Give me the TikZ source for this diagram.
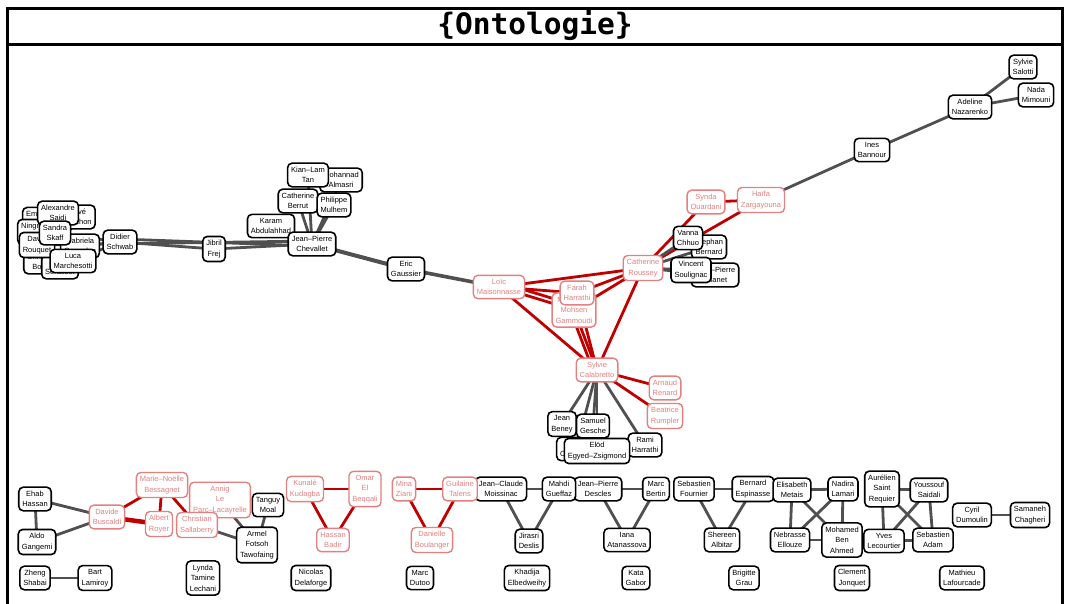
\documentclass[tikz,border=0pt]{standalone}
\usepackage{fontspec}
\setmainfont{Liberation Sans}
\newfontfamily\titlefont{DejaVu Sans Mono}
\pgfdeclarelayer{edges}
\pgfsetlayers{edges,main}
\definecolor{edgegray}{RGB}{80,80,80}
\definecolor{edgered}{RGB}{192,0,0}
\definecolor{nodered}{RGB}{228,128,128}
\tikzset{
  pn/.style={draw=black, line width=1.6pt, rounded corners=4.5pt, fill=white, align=center,
    font=\fontsize{7.5}{10.5}\selectfont, inner xsep=3.5pt, inner ysep=3.8pt},
  rn/.style={pn, draw=nodered, text=nodered, line width=1.4pt},
  ge/.style={draw=edgegray, line width=2.8pt},
  re/.style={draw=edgered, line width=2.8pt},
  frame/.style={draw=black, line width=3pt}
}
\begin{document}
\begin{tikzpicture}[x=1pt,y=-1pt]
\useasboundingbox (0,0) rectangle (1069,604);
% frame and title
\draw[frame] (7,620) -- (7,8.5) -- (1062,8.5) -- (1062,620);
\draw[frame] (7,44.5) -- (1062,44.5);
\node[font=\titlefont\bfseries\fontsize{29.5}{31}\selectfont, inner sep=0pt] (title) at (535,26) {\{Ontologie\}};

% ---- top right
\node[pn] (sal) at (1023,67) {Sylvie\\Salotti};
\node[pn] (mim) at (1036,95) {Nada\\Mimouni};
\node[pn] (naz) at (970,107) {Adeline\\Nazarenko};
\node[pn] (ban) at (872,150) {Ines\\Bannour};
\node[rn] (zar) at (761,200) {Haïfa\\Zargayouna};
\node[rn] (oua) at (706,202) {Synda\\Ouardani};
\node[pn] (sbe) at (709,247) {Stephan\\Bernard};
\node[pn] (cha) at (715,275) {Jean--Pierre\\Chanet};
\node[pn] (chh) at (688,238) {Vanna\\Chhuo};
\node[pn] (sou) at (691,270) {Vincent\\Soulignac};
\node[rn] (rou) at (643,268) {Catherine\\Roussey};
\node[rn] (mai) at (499,287) {Loïc\\Maisonnasse};
\node[rn] (gam) at (574,310) {Mohamed\\Mohsen\\Gammoudi};
\node[rn] (fha) at (577,293) {Farah\\Harrathi};
\node[rn] (cal) at (597,370) {Sylvie\\Calabretto};
\node[rn] (ren) at (665,388) {Arnaud\\Renard};
\node[rn] (rum) at (665,416) {Beatrice\\Rumpler};
\node[pn] (mch) at (576,449) {Max\\Chevalier};
\node[pn] (ben) at (562,424) {Jean\\Beney};
\node[pn] (ges) at (593,426) {Samuel\\Gesche};
\node[pn] (rha) at (645,445) {Rami\\Harrathi};
\node[pn] (egy) at (597,451) {Elöd\\Egyed--Zsigmond};

% ---- middle left
\node[pn] (eric) at (406,269) {Eric\\Gaussier};
\node[pn] (abd) at (271,226) {Karam\\Abdulahhad};
\node[pn] (chev) at (312,244) {Jean--Pierre\\Chevallet};
\node[pn] (frej) at (214,249) {Jibril\\Frej};
\node[pn] (berr) at (298,201) {Catherine\\Berrut};
\node[pn] (mul) at (334,205) {Philippe\\Mulhem};
\node[pn] (alm) at (341,180) {Mohannad\\Almasri};
\node[pn] (tan) at (308,175) {Kian--Lam\\Tan};
\node[pn] (sch) at (120,242) {Didier\\Schwab};

% ---- left cluster
\node[pn] (em) at (47,220) {Emmanuelle\\Esperança};
\node[pn] (bla) at (76,217) {Hervé\\Blanchon};
\node[pn] (nin) at (36,232) {Ningning\\Wang};
\node[pn] (gab) at (80,246) {Gabriela\\Gonzalez};
\node[pn] (boi) at (42,262) {Christian\\Boitet};
\node[pn] (ser) at (60,267) {Gilles\\Sérasset};
\node[pn] (rouq) at (37,245) {David\\Rouquet};
\node[pn] (sai) at (58,213) {Alexandre\\Saidi};
\node[pn] (luc) at (73,261) {Luca\\Marchesotti};
\node[pn] (ska) at (55,233) {Sandra\\Skaff};

% ---- bottom
\node[pn] (has) at (35,499) {Ehab\\Hassan};
\node[pn] (gan) at (37,542) {Aldo\\Gangemi};
\node[rn] (bus) at (107,517) {Davide\\Buscaldi};
\node[rn] (bes) at (162,485) {Marie--Noëlle\\Bessagnet};
\node[rn] (roy) at (159,524) {Albert\\Royer};
\node[rn] (lac) at (220,500) {Annig\\Le\\Parc--Lacayrelle};
\node[rn] (sly) at (197,525) {Christian\\Sallaberry};
\node[pn] (moa) at (268,505) {Tanguy\\Moal};
\node[pn] (taw) at (257,545) {Armel\\Fotsoh\\Tawofaing};
\node[pn] (sha) at (35,578) {Zheng\\Shabai};
\node[pn] (lam) at (95,578) {Bart\\Lamiroy};
\node[pn] (lec) at (203,578) {Lynda\\Tamine\\Lechani};
\node[rn] (kud) at (305,489) {Kunalè\\Kudagba};
\node[rn] (beq) at (365,489) {Omar\\El\\Beqqali};
\node[rn] (bad) at (333,540) {Hassan\\Badir};
\node[pn] (del) at (311,578) {Nicolas\\Delaforge};
\node[rn] (zia) at (404,489) {Mina\\Ziani};
\node[pn] (moi) at (501,489) {Jean--Claude\\Moissinac};
\node[rn] (tal) at (460,489) {Guilaine\\Talens};
\node[rn] (bou) at (432,540) {Danielle\\Boulanger};
\node[pn] (dut) at (420,578) {Marc\\Dutoo};
\node[pn] (dcl) at (598,489) {Jean--Pierre\\Descles};
\node[pn] (gue) at (559,489) {Mahdi\\Gueffaz};
\node[pn] (jde) at (529,541) {Jirasri\\Deslis};
\node[pn] (elb) at (527,578) {Khadija\\Elbedweihy};
\node[pn] (bert) at (656,489) {Marc\\Bertin};
\node[pn] (ata) at (627,540) {Iana\\Atanassova};
\node[pn] (gabo) at (636,578) {Kata\\Gabor};
\node[pn] (fou) at (694,489) {Sebastien\\Fournier};
\node[pn] (esp) at (753,489) {Bernard\\Espinasse};
\node[pn] (alb) at (722,540) {Shereen\\Albitar};
\node[pn] (gra) at (744,578) {Brigitte\\Grau};
\node[pn] (met) at (792,490) {Elisabeth\\Metais};
\node[pn] (lma) at (843,489) {Nadira\\Lamari};
\node[pn] (ell) at (790,540) {Nebrasse\\Ellouze};
\node[pn] (ahm) at (842,540) {Mohamed\\Ben\\Ahmed};
\node[pn] (req) at (882,489) {Aurélien\\Saint\\Requier};
\node[pn] (sdl) at (929,490) {Youssouf\\Saidali};
\node[pn] (lco) at (884,541) {Yves\\Lecourtier};
\node[pn] (ada) at (933,540) {Sebastien\\Adam};
\node[pn] (dum) at (972,515) {Cyril\\Dumoulin};
\node[pn] (chg) at (1030,515) {Samaneh\\Chagheri};
\node[pn] (jon) at (852,578) {Clement\\Jonquet};
\node[pn] (laf) at (962,578) {Mathieu\\Lafourcade};

\begin{pgfonlayer}{edges}
% top right
\draw[ge] (naz.center) -- (sal.center);
\draw[ge] (naz.center) -- (mim.center);
\draw[ge] (ban.center) -- (naz.center);
\draw[ge] (zar.center) -- (ban.center);
\draw[re] (oua.center) -- (zar.center);
\draw[re] (rou.center) -- (oua.center);
\draw[re] (rou.center) -- (zar.center);
\draw[ge] (rou.center) -- (chh.center);
\draw[ge] (rou.center) -- (sbe.center);
\draw[ge] (rou.center) -- (sou.center);
\draw[ge] (rou.center) -- (cha.center);
% centre red
\draw[re] (mai.center) -- (rou.center);
\draw[re] (mai.center) -- (fha.center);
\draw[re] (mai.center) -- (gam.center);
\draw[re] ([yshift=5pt]mai.center) -- ([yshift=5pt]gam.center);
\draw[re] (mai.center) -- (cal.center);
\draw[re] (fha.center) -- (rou.center);
\draw[re] (gam.center) -- (rou.center);
\draw[re] (rou.center) -- (cal.center);
\draw[re] (fha.center) -- (cal.center);
\draw[re] (gam.center) -- (cal.center);
\draw[re] ([xshift=-4pt]gam.center) -- ([xshift=-4pt]cal.center);
\draw[re] (cal.center) -- (ren.center);
\draw[re] (cal.center) -- (rum.center);
\draw[ge] (cal.center) -- (ben.center);
\draw[ge] (cal.center) -- (ges.center);
\draw[ge] (cal.center) -- (mch.center);
\draw[ge] (cal.center) -- (egy.center);
\draw[ge] (cal.center) -- (rha.center);
% middle left
\draw[ge, line width=3.6pt] (eric.center) -- (mai.center);
\draw[ge, line width=4pt] (chev.center) -- (eric.center);
\draw[ge] (chev.center) -- (abd.center);
\draw[ge] (chev.center) -- (berr.center);
\draw[ge] (chev.center) -- (mul.center);
\draw[ge] (chev.center) -- (tan.center);
\draw[ge] (chev.center) -- (alm.center);
\draw[ge] (frej.center) -- (chev.center);
\draw[ge] (sch.center) -- (frej.center);
\draw[ge] ([yshift=3pt]sch.center) -- ([yshift=-2pt]chev.center);
\draw[ge] (rouq.center) -- ([yshift=3pt]chev.center);
\draw[ge] (gab.center) -- (sch.center);
\draw[ge] (luc.center) -- (sch.center);
\draw[ge] (ska.center) -- (sch.center);
\draw[ge] (sai.center) -- (ska.center);
% bottom
\draw[ge] (has.center) -- (gan.center);
\draw[ge] (has.center) -- (bus.center);
\draw[ge] (gan.center) -- (bus.center);
\draw[re] (bus.center) -- (bes.center);
\draw[re, line width=4.5pt] (bus.center) -- (roy.center);
\draw[re] (bes.center) -- (roy.center);
\draw[re] (bes.center) -- (sly.center);
\draw[re] (lac.center) -- (sly.center);
\draw[ge] (lac.center) -- (taw.center);
\draw[ge] (sly.center) -- (taw.center);
\draw[ge] (moa.center) -- (taw.center);
\draw[ge] (sha.center) -- (lam.center);
\draw[re] (kud.center) -- (beq.center);
\draw[re] (kud.center) -- (bad.center);
\draw[re] (beq.center) -- (bad.center);
\draw[re] (zia.center) -- (tal.center);
\draw[re] (zia.center) -- (bou.center);
\draw[re] (tal.center) -- (bou.center);
\draw[ge] (moi.center) -- (gue.center);
\draw[ge] (moi.center) -- (jde.center);
\draw[ge] (gue.center) -- (jde.center);
\draw[ge] (dcl.center) -- (bert.center);
\draw[ge] (dcl.center) -- (ata.center);
\draw[ge] (bert.center) -- (ata.center);
\draw[ge] (fou.center) -- (esp.center);
\draw[ge] (fou.center) -- (alb.center);
\draw[ge] (esp.center) -- (alb.center);
\draw[ge] (met.center) -- (lma.center);
\draw[ge] (met.center) -- (ell.center);
\draw[ge] (met.center) -- (ahm.center);
\draw[ge] (lma.center) -- (ell.center);
\draw[ge] (lma.center) -- (ahm.center);
\draw[ge] (ell.center) -- (ahm.center);
\draw[ge] (req.center) -- (sdl.center);
\draw[ge] (req.center) -- (lco.center);
\draw[ge] (req.center) -- (ada.center);
\draw[ge] (sdl.center) -- (lco.center);
\draw[ge] (sdl.center) -- (ada.center);
\draw[ge] (lco.center) -- (ada.center);
\draw[ge] (dum.center) -- (chg.center);
\end{pgfonlayer}
\end{tikzpicture}
\end{document}
